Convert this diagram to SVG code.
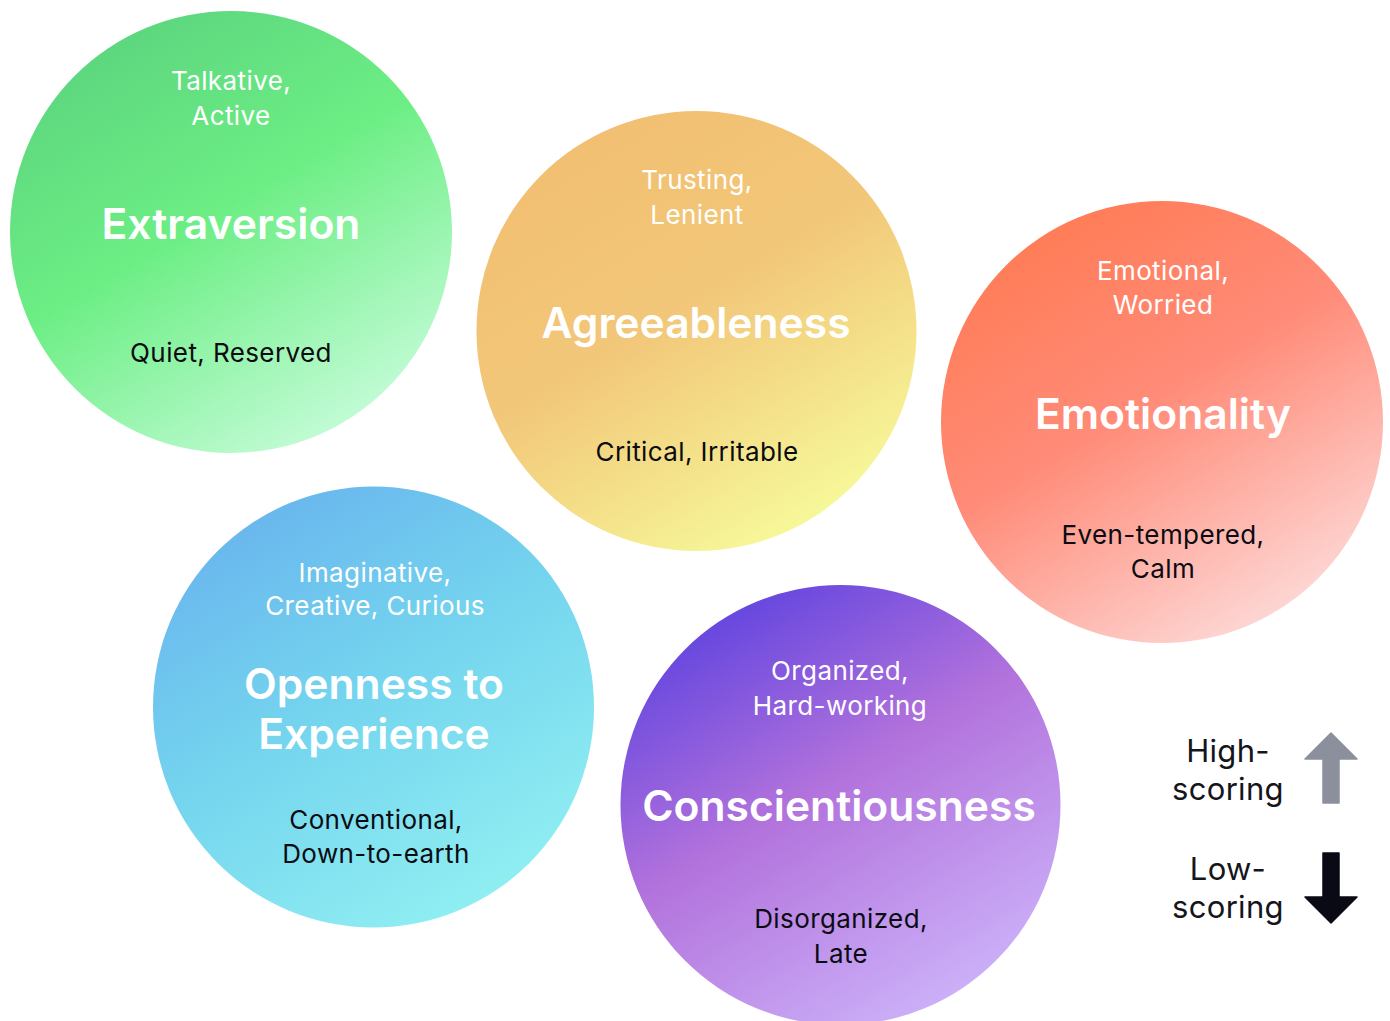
<svg xmlns="http://www.w3.org/2000/svg" width="1390" height="1021" viewBox="0 0 1390 1021">
  <defs>
    <linearGradient id="gExtra" x1="0.2" y1="0" x2="0.8" y2="1">
      <stop offset="0" stop-color="#5bd37e"/>
      <stop offset="0.45" stop-color="#6cee84"/>
      <stop offset="1" stop-color="#cdfde0"/>
    </linearGradient>
    <linearGradient id="gAgree" x1="0.2" y1="0" x2="0.8" y2="1">
      <stop offset="0" stop-color="#f2be70"/>
      <stop offset="0.45" stop-color="#f2c779"/>
      <stop offset="1" stop-color="#f7ff9e"/>
    </linearGradient>
    <linearGradient id="gEmo" x1="0.2" y1="0" x2="0.8" y2="1">
      <stop offset="0" stop-color="#ff7a52"/>
      <stop offset="0.45" stop-color="#ff8b78"/>
      <stop offset="1" stop-color="#fde0e0"/>
    </linearGradient>
    <linearGradient id="gOpen" x1="0.2" y1="0" x2="0.8" y2="1">
      <stop offset="0" stop-color="#68b3ee"/>
      <stop offset="0.45" stop-color="#74d4ee"/>
      <stop offset="1" stop-color="#93f2f2"/>
    </linearGradient>
    <linearGradient id="gCons" x1="0.2" y1="0" x2="0.8" y2="1">
      <stop offset="0" stop-color="#5a40df"/>
      <stop offset="0.45" stop-color="#b272dc"/>
      <stop offset="1" stop-color="#cfb8fc"/>
    </linearGradient>
  </defs>
  <style>
    text { font-family: Inter, "Noto Sans", "Liberation Sans", sans-serif; text-anchor: middle; }
    .trait { font-size: 26px; letter-spacing: 0.4px; }
    .high { fill: #ffffff; }
    .low { fill: #0b0b12; }
    .title { font-size: 42.6px; font-weight: 600; fill: #ffffff; }
    .legend { font-size: 31px; letter-spacing: 0.3px; fill: #15151c; }
  </style>
  <rect width="1390" height="1021" fill="#ffffff"/>

  <g id="extraversion">
    <circle cx="231" cy="232" r="221" fill="url(#gExtra)"/>
    <text class="trait high" x="231" y="90">Talkative,</text>
    <text class="trait high" x="231" y="125">Active</text>
    <text class="title" x="231" y="239">Extraversion</text>
    <text class="trait low" x="231" y="362">Quiet, Reserved</text>
  </g>

  <g id="agreeableness">
    <circle cx="696.5" cy="331" r="220" fill="url(#gAgree)"/>
    <text class="trait high" x="697" y="189">Trusting,</text>
    <text class="trait high" x="697" y="224">Lenient</text>
    <text class="title" x="696" y="338">Agreeableness</text>
    <text class="trait low" x="697" y="461">Critical, Irritable</text>
  </g>

  <g id="emotionality">
    <circle cx="1162" cy="422" r="221" fill="url(#gEmo)"/>
    <text class="trait high" x="1163" y="280">Emotional,</text>
    <text class="trait high" x="1163" y="314">Worried</text>
    <text class="title" x="1163" y="429">Emotionality</text>
    <text class="trait low" x="1163" y="544">Even-tempered,</text>
    <text class="trait low" x="1163" y="578">Calm</text>
  </g>

  <g id="openness">
    <circle cx="373.5" cy="707" r="220.5" fill="url(#gOpen)"/>
    <text class="trait high" x="375" y="582">Imaginative,</text>
    <text class="trait high" x="375" y="615">Creative, Curious</text>
    <text class="title" x="374" y="699">Openness to</text>
    <text class="title" x="374" y="749">Experience</text>
    <text class="trait low" x="376" y="829">Conventional,</text>
    <text class="trait low" x="376" y="863">Down-to-earth</text>
  </g>

  <g id="conscientiousness">
    <circle cx="840.5" cy="805" r="220" fill="url(#gCons)"/>
    <text class="trait high" x="840" y="680">Organized,</text>
    <text class="trait high" x="840" y="715">Hard-working</text>
    <text class="title" x="839" y="821">Conscientiousness</text>
    <text class="trait low" x="841" y="928">Disorganized,</text>
    <text class="trait low" x="841" y="963">Late</text>
  </g>

  <g id="connectors"/>

  <g id="legend">
    <text class="legend" x="1228" y="762">High-</text>
    <text class="legend" x="1228" y="800">scoring</text>
    <path d="M1331 733 L1357 759 L1339 759 L1339 803 L1323 803 L1323 759 L1305 759 Z" fill="#8b909c" stroke="#8b909c" stroke-width="1.5" stroke-linejoin="round"/>
    <text class="legend" x="1228" y="880">Low-</text>
    <text class="legend" x="1228" y="918">scoring</text>
    <path d="M1323 853 L1339 853 L1339 897 L1357 897 L1331 923 L1305 897 L1323 897 Z" fill="#0a0a14" stroke="#0a0a14" stroke-width="1.5" stroke-linejoin="round"/>
  </g>
</svg>
